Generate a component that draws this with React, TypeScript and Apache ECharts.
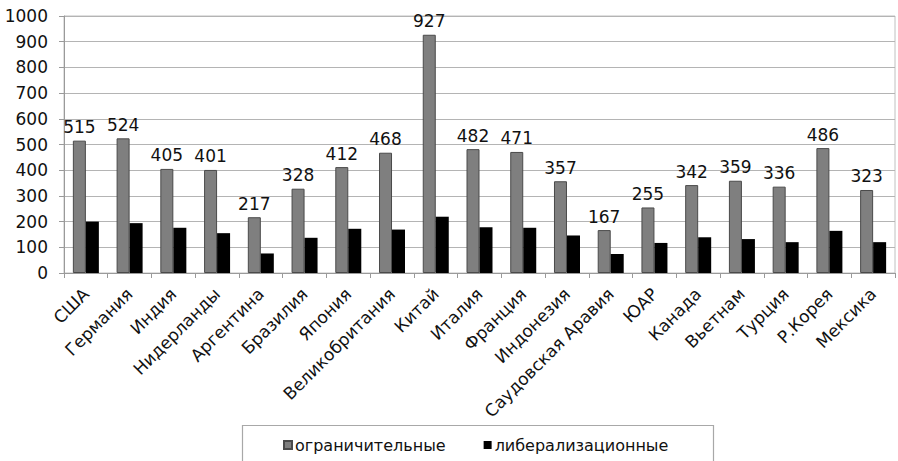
import React, { useEffect, useRef } from "react";
import * as echarts from "echarts";

const categories = [
  "США", "Германия", "Индия", "Нидерланды", "Аргентина", "Бразилия", "Япония",
  "Великобритания", "Китай", "Италия", "Франция", "Индонезия", "Саудовская Аравия",
  "ЮАР", "Канада", "Вьетнам", "Турция", "Р.Корея", "Мексика",
];
const restrictive = [515, 524, 405, 401, 217, 328, 412, 468, 927, 482, 471, 357, 167, 255, 342, 359, 336, 486, 323];
const liberalizing = [200, 194, 176, 155, 76, 137, 172, 169, 219, 178, 176, 146, 74, 117, 139, 132, 120, 164, 120];
const seriesNames = ["ограничительные", "либерализационные"];

const FONT = "'DejaVu Sans', Arial, sans-serif";

export default function App() {
  const ref = useRef<HTMLDivElement>(null);
  useEffect(() => {
    if (!ref.current) return;
    const chart = echarts.init(ref.current, null, { renderer: "svg" });
    chart.setOption({
      animation: false,
      backgroundColor: "#ffffff",
      textStyle: { fontFamily: FONT },
      grid: { left: 64, right: 3, top: 16, bottom: 188, show: true, borderColor: "#c0c0c0", borderWidth: 1, backgroundColor: "transparent" },
      graphic: [
        {
          type: "rect",
          left: 240,
          top: 423,
          shape: { width: 471, height: 50 },
          style: { fill: "none", stroke: "#a8a8a8", lineWidth: 1.2 },
          z: -1,
        },
      ],
      legend: {
        left: 278,
        top: 432,
        itemWidth: 8,
        itemHeight: 8,
        itemGap: 38,
        icon: "rect",
        textStyle: { fontSize: 16, color: "#111", fontFamily: FONT, padding: [0, 0, 0, -2] },
        data: seriesNames,
      },
      xAxis: {
        type: "category",
        data: categories,
        axisLine: { lineStyle: { color: "#9a9a9a", width: 1 } },
        axisTick: { show: true, length: 5, alignWithLabel: false, lineStyle: { color: "#9a9a9a" } },
        axisLabel: { rotate: 45, fontSize: 17, color: "#111", margin: 18, interval: 0, fontFamily: FONT },
      },
      yAxis: {
        type: "value",
        min: 0,
        max: 1000,
        interval: 100,
        axisLine: { show: true, lineStyle: { color: "#9a9a9a", width: 1 } },
        axisTick: { show: true, length: 5, lineStyle: { color: "#9a9a9a" } },
        axisLabel: { fontSize: 17, color: "#111", margin: 16, fontFamily: FONT, formatter: (v: number) => String(v) },
        splitLine: { show: true, lineStyle: { color: "#b4b4b4", width: 1 } },
      },
      series: [
        {
          name: seriesNames[0],
          type: "bar",
          data: restrictive,
          barWidth: 13,
          barGap: "0%",
          itemStyle: { color: "#7f7f7f", borderColor: "#4a4a4a", borderWidth: 1 },
          label: { show: true, position: "top", fontSize: 17, color: "#111", distance: 5, fontFamily: FONT },
        },
        {
          name: seriesNames[1],
          type: "bar",
          data: liberalizing,
          barWidth: 13,
          barGap: "0%",
          itemStyle: { color: "#000000" },
        },
      ],
    });
    return () => chart.dispose();
  }, []);
  return <div ref={ref} style={{ width: 898, height: 461, position: "absolute", left: 0, top: 0 }} />;
}
